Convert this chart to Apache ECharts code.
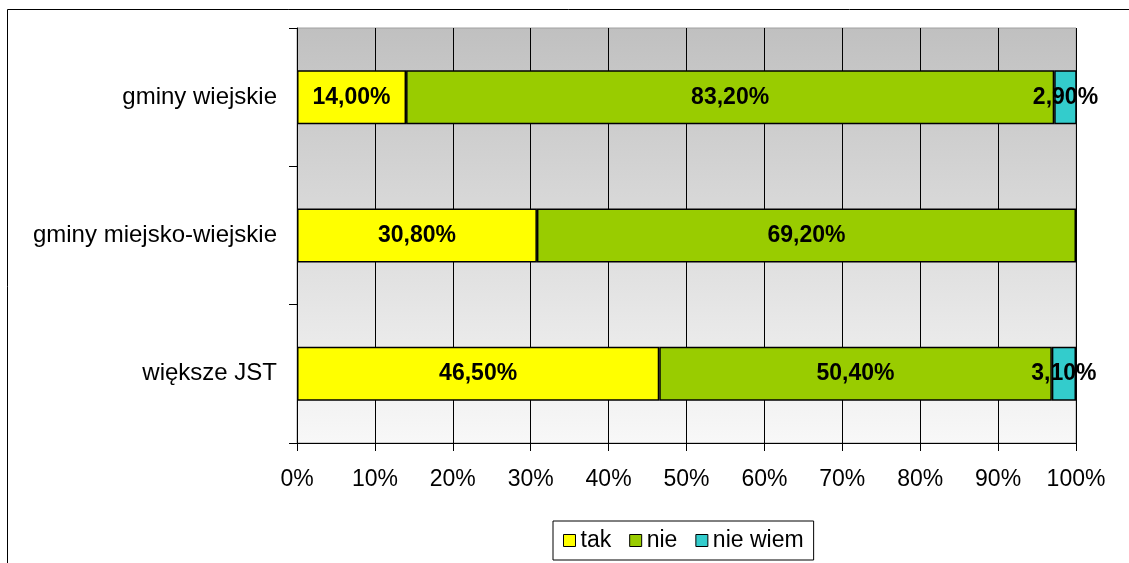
<!DOCTYPE html>
<html><head><meta charset="utf-8">
<script src="https://cdn.jsdelivr.net/npm/echarts@6/dist/echarts.min.js"></script>
<style>html,body{margin:0;padding:0;background:#fff}#c{width:1129px;height:563px}</style>
</head><body><div id="c"></div>
<script>
const categories = ['gminy wiejskie', 'gminy miejsko-wiejskie', 'większe JST'];
const seriesNames = ['tak', 'nie', 'nie wiem'];
const tak = [14.0, 30.8, 46.5];
const nie = [83.2, 69.2, 50.4];
const nieWiem = [2.9, null, 3.1];
const xTicks = [0, 10, 20, 30, 40, 50, 60, 70, 80, 90, 100];
const colors = ['#ffff00', '#99cc00', '#33cccc'];
const FONT = '"Liberation Sans", Arial, sans-serif';

const chart = echarts.init(document.getElementById('c'));
function mk(name, data, color) {
  return {
    name: name, type: 'bar', stack: 'all', data: data, barWidth: '39%',
    itemStyle: { color: color, borderColor: '#000', borderWidth: 1.5 },
    label: {
      show: true, position: 'inside', color: '#000', fontWeight: 'bold', fontSize: 23, fontFamily: FONT,
      formatter: p => p.value == null ? '' : p.value.toFixed(2).replace('.', ',') + '%'
    },
    emphasis: { disabled: true }
  };
}
chart.setOption({
  animation: false,
  textStyle: { fontFamily: FONT },
  graphic: [{ type: 'rect', shape: { x: 7.5, y: 9.5, width: 1140, height: 600 }, style: { fill: 'none', stroke: '#000', lineWidth: 1 }, z: -10 }],
  grid: {
    left: 297, right: 53, top: 28, bottom: 120, show: true,
    backgroundColor: new echarts.graphic.LinearGradient(0, 0, 0, 1, [
      { offset: 0, color: '#c0c0c0' }, { offset: 1, color: '#f8f8f8' }]),
    borderColor: '#a0a0a0', borderWidth: 1
  },
  legend: {
    data: seriesNames, left: 553, top: 521, padding: [8, 10, 8, 10], itemGap: 18,
    itemWidth: 12, itemHeight: 12, icon: 'rect',
    itemStyle: { borderColor: '#000', borderWidth: 1 },
    borderColor: '#000', borderWidth: 1, backgroundColor: '#fff',
    textStyle: { fontSize: 23, color: '#000', fontFamily: FONT }
  },
  xAxis: {
    type: 'value', min: 0, max: 100, interval: 10,
    axisLine: { show: true, lineStyle: { color: '#000', width: 1 } },
    axisTick: { show: true, length: 8, lineStyle: { color: '#000' } },
    splitLine: { show: true, lineStyle: { color: '#000', width: 1 } },
    axisLabel: { formatter: v => xTicks.includes(v) ? v + '%' : '', fontSize: 23, color: '#000', margin: 25, fontFamily: FONT }
  },
  yAxis: {
    type: 'category', data: categories, inverse: true,
    axisLine: { show: true, lineStyle: { color: '#000', width: 1 } },
    axisTick: { show: true, length: 8, lineStyle: { color: '#000' } },
    axisLabel: { fontSize: 24, color: '#000', margin: 20, fontFamily: FONT },
    splitLine: { show: false }
  },
  series: [mk(seriesNames[0], tak, colors[0]), mk(seriesNames[1], nie, colors[1]), mk(seriesNames[2], nieWiem, colors[2])]
});
</script></body></html>
